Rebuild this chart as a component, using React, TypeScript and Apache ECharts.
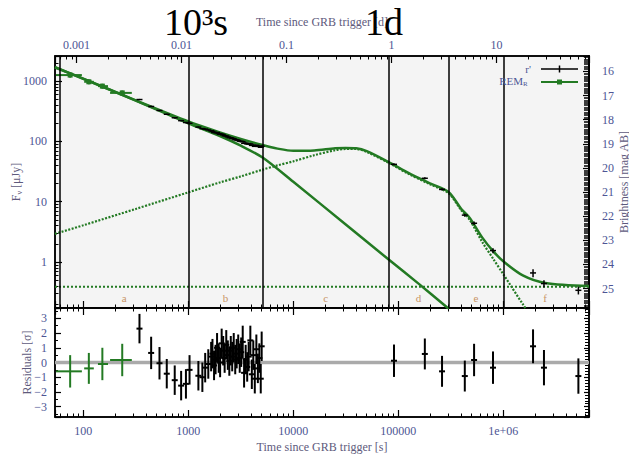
import React, { useEffect, useRef } from "react";
import * as echarts from "echarts";

// ---- axis ranges ----
const T_MIN = 53.8;
const T_MAX = 6.55e6;
const SEC_PER_DAY = 86400;
const F_MIN = 0.173;
const F_MAX = 2610;
const RES_MIN = -3.7;
const RES_MAX = 3.7;
const AB_ZP = 23.9; // AB magnitude of 1 microJy
const MAG_TOP = AB_ZP - 2.5 * Math.log10(F_MAX);
const MAG_BOTTOM = AB_ZP - 2.5 * Math.log10(F_MIN);

// ---- segments ----
const segmentBounds = [60, 1000, 5100, 81000, 300000, 1000000];
const segmentLetters = ["a", "b", "c", "d", "e", "f"];
const segmentLetterTimes = [245, 2260, 20300, 156000, 548000, 2500000];
const segmentLetterFlux = 0.25;

// ---- model curves ----
const modelTimes = [53.7, 100, 316, 1000, 2000, 3160, 5100, 7080, 10000, 15800, 25100, 31600, 39800, 50100, 81000, 126000, 200000, 302000, 398000, 479000, 631000, 804000, 1000000, 1550000, 2510000, 6550000];
const totalFlux = [1700, 1100, 479, 214, 141, 110, 87, 76, 70, 71, 77, 78, 77, 69, 45.5, 29.8, 20.2, 14.4, 7.6, 5.4, 2.54, 1.5, 1.03, 0.595, 0.45, 0.4];

const risingTimes = [53.7, 100, 316, 1000, 2000, 3160, 5100, 7080, 10000, 15800, 25100, 31600, 39800, 50100, 81000, 126000, 200000, 302000, 398000, 479000, 631000, 804000, 1000000, 1550000, 1780000];
const risingFlux = [2.93, 4.07, 7.6, 14.3, 20.9, 26.3, 34.1, 40, 46.8, 58.9, 71.6, 75, 75, 66.8, 44.2, 28.8, 19.5, 13.8, 7.2, 5.0, 2.14, 1.12, 0.63, 0.195, 0.138];

const steepTimes = [53.7, 100, 316, 1000, 2000, 3160, 5100, 10000, 31600, 81000, 158000, 302000];
const steepFlux = [1700, 1090, 475, 200, 123, 85, 54, 21.4, 4.2, 1.1, 0.43, 0.168];

const hostFlux = 0.39;

// ---- r' data ----
const rTime = [343, 443, 532, 624, 743, 855, 950, 1028, 1248, 1362, 1449, 1551, 1651,
  1700, 1760, 1820, 1880, 1950, 2010, 2080, 2150, 2220, 2300, 2380, 2460, 2540, 2620, 2710, 2800, 2890, 2990, 3090, 3190, 3300, 3400, 3520, 3640, 3760, 3900, 4030, 4160, 4300, 4450, 4600, 4750, 4900, 5000,
  91000, 179000, 261000, 430000, 527000, 798000, 1920000, 2440000, 5190000];
const rFlux = [495, 380, 326, 282, 247, 221, 206, 200, 173, 163, 160, 155, 150,
  147, 141, 140, 140, 135, 131, 132, 128, 124, 123, 119, 116, 115, 112, 111, 107, 106, 104, 101, 100, 99, 93, 94, 91, 91, 91, 86, 87, 83, 86, 83, 83, 80, 83,
  41.7, 24.5, 16, 6.0, 4.4, 1.55, 0.66, 0.44, 0.34];
const rFluxErr = [12, 9, 8, 7, 6, 5, 5, 5, 4, 4, 4, 4, 3.5,
  3.5, 3.5, 3.5, 3.5, 3.3, 3.3, 3.3, 3.2, 3.1, 3.1, 3, 3, 3, 2.8, 2.8, 2.7, 2.7, 2.6, 2.6, 2.5, 2.5, 2.4, 2.4, 2.3, 2.3, 2.3, 2.2, 2.2, 2.1, 2.2, 2.1, 2.1, 2, 2.1,
  1.5, 1.0, 0.7, 0.35, 0.3, 0.15, 0.1, 0.06, 0.05];
const rRes = [2.3, 0.65, -0.05, -0.76, -1.2, -1.57, -1.45, -0.5, -0.9, -1.0, -0.35, -0.1, 0.4,
  0.6, -0.2, 0.2, 1.0, 0.3, 0.0, 1.3, 0.8, 0.3, 1.2, 0.5, 0.1, 0.8, 0.4, 1.0, 0.2, 0.6, 0.9, 0.3, 0.7, 1.4, -0.7, 0.2, -0.3, 0.4, 1.5, -0.8, 0.5, -1.1, 0.9, -0.4, 0.3, -1.1, 1.1,
  0.12, 0.58, -0.6, -0.92, 0.17, -0.35, 1.1, -0.35, -0.92];
const rResErr = [1, 1.1, 1.1, 1, 1, 1, 1, 1, 1, 1, 1, 1, 1,
  1, 1, 1, 1, 1, 1, 1, 1, 1, 1, 1, 1, 1, 1, 1, 1, 1, 1, 1, 1, 1.1, 1, 1, 1, 1, 1, 1, 1, 1, 1, 1, 1, 1, 1,
  1.1, 1.05, 1.05, 1.05, 1.1, 1.1, 1.15, 1.2, 1.2];

// ---- REM R data ----
const remTime = [75, 113, 152, 235];
const remTimeLo = [55, 102, 138, 180];
const remTimeHi = [97, 126, 172, 290];
const remFlux = [1260, 975, 826, 638];
const remFluxErr = [120, 90, 80, 60];
const remRes = [-0.6, -0.4, -0.1, 0.17];
const remResErr = [1.1, 1.05, 1.1, 1.1];

// ---- styling ----
const FONT = "'Liberation Serif', 'DejaVu Serif', serif";
const LABEL = "#4d5594";
const TITLE = "#5e5a7c";
const LETTER = "#c99566";
const GREEN = "#237a23";
const BLACK = "#000";

const logFmt = (fmt: (e: number) => string) => (v: number) => {
  const l = Math.log10(v);
  const e = Math.round(l);
  if (Math.abs(l - e) > 1e-6) return "";
  return fmt(e);
};
const intFmt = (minus: boolean) => (v: number) => {
  const r = Math.round(v);
  if (Math.abs(v - r) > 1e-6) return "";
  if (minus && r < 0) return "\u2212" + Math.abs(r);
  return String(r);
};

const labelStyle = { color: LABEL, fontFamily: FONT, fontSize: 12 };
const nameStyle = { color: TITLE, fontFamily: FONT, fontSize: 12 };
const axisLine = { show: true, onZero: false, lineStyle: { color: BLACK, width: 1.5 } };
const tick = (len: number) => ({ show: true, inside: true, length: len, lineStyle: { color: BLACK, width: 1.2 } });
const minor = (n: number, len: number, w = 1) => ({ show: true, splitNumber: n, length: len, lineStyle: { color: BLACK, width: w } });

export default function App() {
  const ref = useRef<HTMLDivElement>(null);
  useEffect(() => {
    if (!ref.current) return;
    const chart = echarts.init(ref.current, undefined, { renderer: "svg" });

    const errRender = (color: string, width: number) => (params: any, api: any) => {
      const t = api.value(0), v = api.value(1), lo = api.value(2), hi = api.value(3);
      const c = api.coord([t, v]);
      const pl = api.coord([t, lo]);
      const ph = api.coord([t, hi]);
      const st = { stroke: color, lineWidth: width };
      return {
        type: "group",
        children: [
          { type: "line", shape: { x1: c[0], y1: pl[1], x2: c[0], y2: ph[1] }, style: st },
          { type: "line", shape: { x1: c[0] - 3, y1: c[1], x2: c[0] + 3, y2: c[1] }, style: st },
        ],
      };
    };
    const xyErrRender = (color: string, width: number, square: boolean) => (params: any, api: any) => {
      const t = api.value(0), v = api.value(1), tl = api.value(2), th = api.value(3), lo = api.value(4), hi = api.value(5);
      const c = api.coord([t, v]);
      const l = api.coord([tl, v]);
      const r = api.coord([th, v]);
      const pl = api.coord([t, lo]);
      const ph = api.coord([t, hi]);
      const st = { stroke: color, lineWidth: width };
      const children: any[] = [
        { type: "line", shape: { x1: l[0], y1: c[1], x2: r[0], y2: c[1] }, style: st },
        { type: "line", shape: { x1: c[0], y1: pl[1], x2: c[0], y2: ph[1] }, style: st },
      ];
      if (square) children.push({ type: "rect", shape: { x: c[0] - 2.5, y: c[1] - 2.5, width: 5, height: 5 }, style: { fill: color } });
      return { type: "group", children };
    };

    const option: any = {
      animation: false,
      backgroundColor: "#fff",
      grid: [
        { left: 55, right: 40, top: 56, height: 252, show: true, containLabel: false, outerBoundsMode: "none", backgroundColor: "#f4f4f4", borderColor: BLACK, borderWidth: 1.5 },
        { left: 55, right: 40, top: 308, height: 109, show: true, containLabel: false, outerBoundsMode: "none", backgroundColor: "#fff", borderColor: BLACK, borderWidth: 1.5 },
      ],
      xAxis: [
        {
          type: "log", logBase: 10, gridIndex: 0, position: "bottom", min: T_MIN, max: T_MAX,
          axisLine, axisTick: tick(7), minorTick: minor(9, 3.5), axisLabel: { show: false },
          splitLine: { show: false }, minorSplitLine: { show: false },
        },
        {
          type: "log", logBase: 10, gridIndex: 0, position: "top", min: T_MIN / SEC_PER_DAY, max: T_MAX / SEC_PER_DAY,
          axisLine, axisTick: tick(7), minorTick: minor(9, 3.5),
          axisLabel: { ...labelStyle, margin: 5, formatter: logFmt((e) => (e < 0 ? Math.pow(10, e).toFixed(-e) : String(Math.pow(10, e)))) },
          splitLine: { show: false },
          name: "Time since GRB trigger [d]", nameLocation: "middle", nameGap: 28, nameMoveOverlap: false, nameTextStyle: nameStyle,
        },
        {
          type: "log", logBase: 10, gridIndex: 1, position: "bottom", min: T_MIN, max: T_MAX,
          axisLine, axisTick: tick(7), minorTick: minor(9, 3.5),
          axisLabel: { ...labelStyle, margin: 8, formatter: logFmt((e) => (e >= 6 ? "1e+0" + e : String(Math.pow(10, e)))) },
          splitLine: { show: false },
          name: "Time since GRB trigger [s]", nameLocation: "middle", nameGap: 24, nameMoveOverlap: false, nameTextStyle: nameStyle,
        },
        {
          type: "log", logBase: 10, gridIndex: 1, position: "top", min: T_MIN, max: T_MAX,
          axisLine, axisTick: tick(7), minorTick: minor(9, 3.5), axisLabel: { show: false }, splitLine: { show: false },
        },
      ],
      yAxis: [
        {
          type: "log", logBase: 10, gridIndex: 0, position: "left", min: F_MIN, max: F_MAX,
          axisLine, axisTick: tick(7), minorTick: minor(9, 3.5),
          axisLabel: { ...labelStyle, margin: 8, formatter: logFmt((e) => String(Math.pow(10, e))) },
          splitLine: { show: false },
          name: "F{s|\u03bd} [\u03bcJy]", nameLocation: "middle", nameGap: 32, nameRotate: 90, nameMoveOverlap: false,
          nameTextStyle: { ...nameStyle, rich: { s: { fontSize: 8, fontFamily: FONT, color: TITLE, padding: [6, 0, 0, 0] } } },
        },
        {
          type: "value", gridIndex: 0, position: "right", inverse: true, min: MAG_TOP, max: MAG_BOTTOM,
          minInterval: 1, maxInterval: 1,
          axisLine: { show: true, onZero: false, lineStyle: { color: BLACK, width: 2 } },
          axisTick: tick(6), minorTick: minor(10, 5, 1.5),
          axisLabel: { ...labelStyle, margin: 13, formatter: intFmt(false) },
          splitLine: { show: false },
          name: "Brightness [mag AB]", nameLocation: "middle", nameGap: 29, nameRotate: 90, nameMoveOverlap: false, nameTextStyle: nameStyle,
        },
        {
          type: "value", gridIndex: 1, position: "left", min: RES_MIN, max: RES_MAX, minInterval: 1, maxInterval: 1,
          axisLine, axisTick: tick(6), minorTick: minor(2, 3),
          axisLabel: { ...labelStyle, margin: 8, formatter: intFmt(true) },
          splitLine: { show: false },
          name: "Residuals [\u03c3]", nameLocation: "middle", nameGap: 22, nameRotate: 90, nameMoveOverlap: false, nameTextStyle: nameStyle,
        },
        {
          type: "value", gridIndex: 1, position: "right", min: RES_MIN, max: RES_MAX, minInterval: 1, maxInterval: 1,
          axisLine, axisTick: tick(5), minorTick: minor(5, 4), axisLabel: { show: false }, splitLine: { show: false },
        },
      ],
      series: [
        {
          type: "line", xAxisIndex: 0, yAxisIndex: 0, z: 2, symbol: "none", clip: true,
          data: [[T_MIN, hostFlux], [T_MAX, hostFlux]],
          lineStyle: { color: GREEN, width: 2, type: [2, 2] },
          markLine: {
            silent: true, symbol: ["none", "none"], label: { show: false },
            lineStyle: { color: BLACK, width: 1.5, type: "solid" },
            data: segmentBounds.map((t) => ({ xAxis: t })),
          },
        },
        {
          type: "line", xAxisIndex: 0, yAxisIndex: 0, z: 2, symbol: "none", clip: true, smooth: 0.3,
          data: risingTimes.map((t, i) => [t, risingFlux[i]]),
          lineStyle: { color: GREEN, width: 2.2, type: [2, 1.5] },
        },
        {
          type: "line", xAxisIndex: 0, yAxisIndex: 0, z: 2, symbol: "none", clip: true, smooth: 0.3,
          data: steepTimes.map((t, i) => [t, steepFlux[i]]),
          lineStyle: { color: GREEN, width: 2.5 },
        },
        {
          type: "line", xAxisIndex: 0, yAxisIndex: 0, z: 3, symbol: "none", clip: true, smooth: 0.3,
          data: modelTimes.map((t, i) => [t, totalFlux[i]]),
          lineStyle: { color: GREEN, width: 2.5 },
        },
        {
          type: "custom", xAxisIndex: 0, yAxisIndex: 0, z: 4, clip: true,
          data: rTime.map((t, i) => [t, rFlux[i], rFlux[i] - rFluxErr[i], rFlux[i] + rFluxErr[i]]),
          encode: { x: 0, y: 1 },
          renderItem: errRender(BLACK, 1.5),
        },
        {
          type: "custom", xAxisIndex: 0, yAxisIndex: 0, z: 4, clip: true,
          data: remTime.map((t, i) => [t, remFlux[i], remTimeLo[i], remTimeHi[i], remFlux[i] - remFluxErr[i], remFlux[i] + remFluxErr[i]]),
          encode: { x: 0, y: 1 },
          renderItem: xyErrRender(GREEN, 2, true),
        },
        {
          type: "custom", xAxisIndex: 0, yAxisIndex: 0, z: 4,
          data: segmentLetterTimes.map((t, i) => [t, segmentLetterFlux, i]),
          encode: { x: 0, y: 1 },
          renderItem: (params: any, api: any) => {
            const c = api.coord([api.value(0), api.value(1)]);
            return {
              type: "text", x: c[0], y: c[1],
              style: { text: segmentLetters[api.value(2)], fill: LETTER, fontFamily: FONT, fontSize: 11, align: "center", verticalAlign: "middle" },
            };
          },
        },
        // residual panel
        {
          type: "line", xAxisIndex: 2, yAxisIndex: 2, z: 1, symbol: "none",
          data: [[T_MIN, 0], [T_MAX, 0]],
          lineStyle: { color: "#aaaaaa", width: 3.5 },
        },
        {
          type: "custom", xAxisIndex: 2, yAxisIndex: 2, z: 4, clip: true,
          data: rTime.map((t, i) => [t, rRes[i], rRes[i] - rResErr[i], rRes[i] + rResErr[i]]),
          encode: { x: 0, y: 1 },
          renderItem: errRender(BLACK, 2),
        },
        {
          type: "custom", xAxisIndex: 2, yAxisIndex: 2, z: 4, clip: true,
          data: remTime.map((t, i) => [t, remRes[i], remTimeLo[i], remTimeHi[i], remRes[i] - remResErr[i], remRes[i] + remResErr[i]]),
          encode: { x: 0, y: 1 },
          renderItem: xyErrRender(GREEN, 2, false),
        },
      ],
      graphic: [
        { type: "text", x: 196, y: 22, z: 100, style: { text: "10\u00b3s", fontFamily: FONT, fontSize: 38, fill: BLACK, align: "center", verticalAlign: "middle" } },
        { type: "text", x: 384, y: 22, z: 100, style: { text: "1d", fontFamily: FONT, fontSize: 38, fill: BLACK, align: "center", verticalAlign: "middle" } },
        { type: "text", x: 531, y: 69, z: 100, style: { text: "r'", fontFamily: FONT, fontSize: 11, fill: LABEL, align: "right", verticalAlign: "middle" } },
        { type: "line", z: 100, shape: { x1: 541, y1: 69, x2: 578, y2: 69 }, style: { stroke: BLACK, lineWidth: 1.5 } },
        { type: "line", z: 100, shape: { x1: 559.5, y1: 65.5, x2: 559.5, y2: 72.5 }, style: { stroke: BLACK, lineWidth: 1.5 } },
        { type: "text", x: 523, y: 81, z: 100, style: { text: "REM", fontFamily: FONT, fontSize: 11, fill: LABEL, align: "right", verticalAlign: "middle" } },
        { type: "text", x: 523, y: 84, z: 100, style: { text: "R", fontFamily: FONT, fontSize: 7, fill: LABEL, align: "left", verticalAlign: "middle" } },
        { type: "line", z: 100, shape: { x1: 541, y1: 82, x2: 578, y2: 82 }, style: { stroke: GREEN, lineWidth: 2 } },
        { type: "rect", z: 100, shape: { x: 557, y: 79.5, width: 5, height: 5 }, style: { fill: GREEN } },
      ],
    };
    chart.setOption(option);
    return () => chart.dispose();
  }, []);
  return <div ref={ref} style={{ position: "absolute", left: 0, top: 0, width: 629, height: 456 }} />;
}
